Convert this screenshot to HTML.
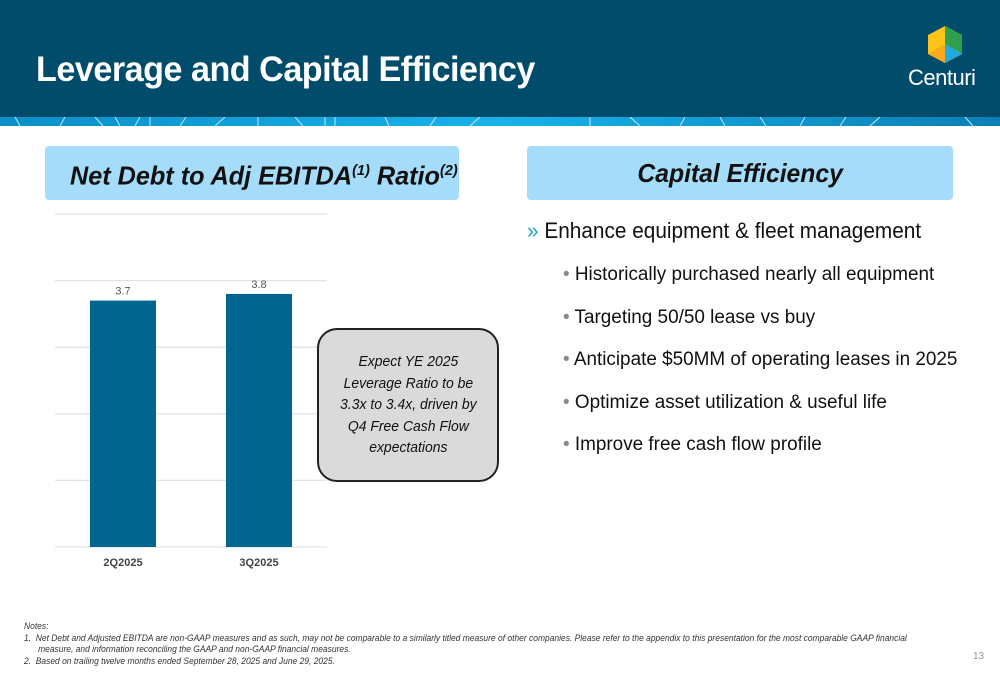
<!DOCTYPE html>
<html><head><meta charset="utf-8"><style>
body{margin:0;width:1000px;height:685px;position:relative;overflow:hidden;background:#fff;font-family:"Liberation Sans",sans-serif}
.abs{position:absolute}
</style></head><body>
<div class="abs" style="left:0;top:0;width:1000px;height:117px;background:#004c6a"></div>
<svg class="abs" style="left:0;top:117px" width="1000" height="9">
<defs><linearGradient id="g" x1="0" x2="1"><stop offset="0" stop-color="#0a8fc8"/><stop offset="0.5" stop-color="#18b1ea"/><stop offset="1" stop-color="#0a7fb5"/></linearGradient></defs>
<rect width="1000" height="9" fill="url(#g)"/>
<g stroke="#bfe8f8" stroke-width="1">
<path d="M15 0l5 9M60 9l5-9M95 0l8 9M115 0l5 9M135 9l5-9M150 0v9M180 9l6-9M215 9l10-9M258 0v9M295 0l8 9M325 0v9M335 0v9M385 0l4 9M430 9l6-9M470 9l10-9M590 0v9M630 0l10 9M680 9l5-9M720 0l5 9M760 0l6 9M800 9l5-9M840 9l6-9M870 9l10-9M965 0l8 9"/></g>
</svg>
<div class="abs" style="left:36px;top:50px;color:#fff;font-weight:bold;font-size:35px;letter-spacing:-0.5px;transform:scaleX(0.975);transform-origin:0 0;white-space:nowrap">Leverage and Capital Efficiency</div>
<svg class="abs" style="left:928px;top:26px" width="34" height="37">
<polygon points="17,0 34,9 34,28 17,37 0,28 0,9" fill="#fcc419"/>
<polygon points="17,0 34,9 34,28 17,18" fill="#2e9e4f"/>
<polygon points="17,18 34,28 17,37" fill="#21a9e1"/>
<polygon points="17,18 17,37 0,28" fill="#f9a91b"/>
</svg>
<div class="abs" style="left:908px;top:65px;color:#fff;font-size:22px;letter-spacing:-0.5px">Centuri</div>

<div class="abs" style="left:45px;top:146px;width:414px;height:54px;background:#a5dcf9;border-radius:4px;color:#111;text-align:center;line-height:50px"><span style="display:inline-block;font-size:26px;font-weight:bold;font-style:italic;transform:translateX(12px) scaleX(0.97)">Net Debt to Adj EBITDA<sup style="font-size:15px">(1)</sup> Ratio<sup style="font-size:15px">(2)</sup></span></div>
<div class="abs" style="left:527px;top:146px;width:426px;height:54px;background:#a5dcf9;border-radius:4px;color:#111;text-align:center;line-height:54px"><span style="display:inline-block;font-size:26px;font-weight:bold;font-style:italic;transform:scaleX(0.95)">Capital Efficiency</span></div>

<svg class="abs" id="chart" style="left:0;top:0" width="500" height="600"></svg>

<div class="abs" style="left:317px;top:328px;width:178px;height:150px;background:#dadada;border:2.5px solid #222;border-radius:20px;font-style:italic;font-size:15px;color:#111;text-align:center;display:flex;align-items:center;justify-content:center;line-height:21.5px"><span style="display:inline-block;transform:scaleX(0.93);white-space:nowrap">Expect YE 2025<br>Leverage Ratio to be<br>3.3x to 3.4x, driven by<br>Q4 Free Cash Flow<br>expectations</span></div>

<div class="abs" style="left:527px;top:218px;font-size:22px;color:#111;transform:scaleX(0.945);transform-origin:0 0;white-space:nowrap"><span style="color:#1f9fd8">»</span> Enhance equipment &amp; fleet management</div>
<div class="abs" style="left:563px;top:254px;font-size:19px;color:#111;line-height:42.5px;transform:scaleX(0.995);transform-origin:0 0;white-space:nowrap">
<div><span style="color:#888">•</span> Historically purchased nearly all equipment</div>
<div><span style="color:#888">•</span> Targeting 50/50 lease vs buy</div>
<div><span style="color:#888">•</span> Anticipate $50MM of operating leases in 2025</div>
<div><span style="color:#888">•</span> Optimize asset utilization &amp; useful life</div>
<div><span style="color:#888">•</span> Improve free cash flow profile</div>
</div>

<div class="abs" style="left:24px;top:621px;font-size:9px;font-style:italic;color:#333;line-height:11.5px;transform:scaleX(0.94);transform-origin:0 0;width:1000px;white-space:nowrap">
<div>Notes:</div>
<div>1.&nbsp; Net Debt and Adjusted EBITDA are non-GAAP measures and as such, may not be comparable to a similarly titled measure of other companies. Please refer to the appendix to this presentation for the most comparable GAAP financial</div>
<div style="padding-left:15px">measure, and information reconciling the GAAP and non-GAAP financial measures.</div>
<div>2.&nbsp; Based on trailing twelve months ended September 28, 2025 and June 29, 2025.</div>
</div>
<div class="abs" style="left:973px;top:651px;font-size:10px;color:#999">13</div>

<script>
const categories=["2Q2025","3Q2025"];
const values=[3.7,3.8];
const labels=["3.7","3.8"];
const ticks=[0,1,2,3,4,5];
const svg=document.getElementById('chart');
const NS="http://www.w3.org/2000/svg";
const x0=55,x1=327,yBase=547,yTop=214,vMax=5;
const y=v=>yBase-(v/vMax)*(yBase-yTop);
const band=(x1-x0)/categories.length;
const xc=i=>x0+band*(i+0.5);
ticks.forEach(t=>{
 const l=document.createElementNS(NS,'line');
 
 
 l.setAttribute('x1',x0);l.setAttribute('x2',x1);l.setAttribute('y1',y(t));l.setAttribute('y2',y(t));
 l.setAttribute('stroke','#e3e3e3');l.setAttribute('stroke-width','1.3');
 svg.appendChild(l);
});
values.forEach((v,i)=>{
 const w=66;
 const r=document.createElementNS(NS,'rect');
 
 
 r.setAttribute('x',xc(i)-w/2);r.setAttribute('y',y(v));r.setAttribute('width',w);r.setAttribute('height',yBase-y(v));
 r.setAttribute('fill','#006690');
 svg.appendChild(r);
 const t=document.createElementNS(NS,'text');
 
 
 t.setAttribute('x',xc(i));t.setAttribute('y',y(v)-6);t.setAttribute('text-anchor','middle');
 t.setAttribute('font-size','11');t.setAttribute('fill','#555');t.setAttribute('font-family','Liberation Sans, sans-serif');
 t.textContent=labels[i];svg.appendChild(t);
 const c=document.createElementNS(NS,'text');
 
 
 c.setAttribute('x',xc(i));c.setAttribute('y',yBase+19);c.setAttribute('text-anchor','middle');
 c.setAttribute('font-size','11');c.setAttribute('font-weight','bold');c.setAttribute('fill','#444');c.setAttribute('font-family','Liberation Sans, sans-serif');
 c.textContent=categories[i];svg.appendChild(c);
});
</script>
</body></html>
